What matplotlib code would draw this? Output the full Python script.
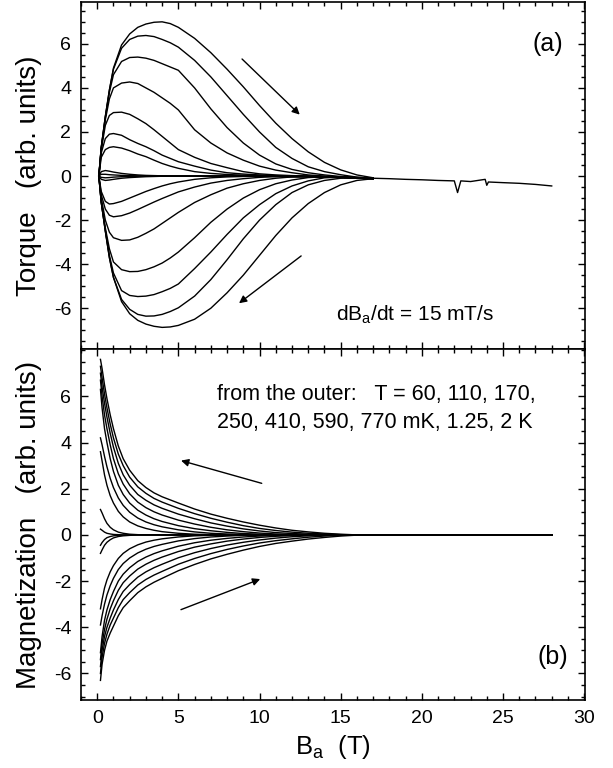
import numpy as np
import matplotlib
matplotlib.use("Agg")
import matplotlib.pyplot as plt
from matplotlib.ticker import MultipleLocator

plt.rcParams['font.family'] = ['Liberation Sans', 'DejaVu Sans']
plt.rcParams['axes.unicode_minus'] = False

# ---- panel (a): torque, field grid shared by all curves (T)
bt = [0.1, 0.25, 0.5, 0.75, 1.0, 1.5, 2.0, 2.5, 3.0, 3.5, 4.0, 4.5, 5, 6, 7, 8, 9, 10, 11, 12, 13, 14, 15, 16, 17]

torque_up = [
    [0, 1.3, 2.7, 3.9, 4.9, 5.95, 6.45, 6.75, 6.9, 6.98, 7.0, 6.92, 6.75, 6.25, 5.6, 4.85, 4.05, 3.2, 2.4, 1.7, 1.1, 0.62, 0.28, 0.05, -0.08],
    [0, 1.3, 2.7, 3.9, 4.85, 5.8, 6.2, 6.35, 6.38, 6.33, 6.2, 6.05, 5.85, 5.25, 4.5, 3.65, 2.8, 2.0, 1.3, 0.8, 0.42, 0.2, 0.06, -0.05, -0.1],
    [0, 1.3, 2.65, 3.8, 4.6, 5.2, 5.38, 5.4, 5.35, 5.25, 5.1, 4.95, 4.8, 4.0, 3.05, 2.2, 1.5, 0.95, 0.55, 0.3, 0.15, 0.05, -0.02, -0.06, -0.1],
    [0, 1.25, 2.55, 3.5, 4.0, 4.22, 4.27, 4.2, 4.0, 3.8, 3.55, 3.3, 3.0, 2.1, 1.5, 1.05, 0.72, 0.45, 0.27, 0.15, 0.05, 0, -0.05, -0.08, -0.1],
    [0, 1.2, 2.3, 2.75, 2.88, 2.9, 2.8, 2.6, 2.38, 2.1, 1.8, 1.5, 1.2, 0.85, 0.57, 0.38, 0.2, 0.1, 0.05, 0.02, 0, -0.03, -0.05, -0.08, -0.1],
    [0, 1.05, 1.7, 1.9, 1.93, 1.85, 1.65, 1.48, 1.33, 1.15, 0.95, 0.8, 0.65, 0.45, 0.27, 0.15, 0.09, 0.05, 0.02, 0, -0.02, -0.04, -0.06, -0.08, -0.1],
    [0, 0.85, 1.2, 1.3, 1.33, 1.27, 1.15, 1.0, 0.88, 0.72, 0.57, 0.45, 0.35, 0.2, 0.12, 0.07, 0.04, 0.02, 0, -0.01, -0.02, -0.04, -0.06, -0.08, -0.1],
    [0, 0.2, 0.25, 0.22, 0.18, 0.12, 0.08, 0.05, 0.03, 0.02, 0.01, 0, 0, 0, 0, 0, 0, 0, -0.01, -0.02, -0.03, -0.05, -0.07, -0.08, -0.1],
    [0, 0.08, 0.08, 0.06, 0.05, 0.03, 0.02, 0.01, 0, 0, 0, 0, 0, 0, 0, 0, 0, 0, -0.01, -0.02, -0.03, -0.05, -0.07, -0.08, -0.1],
]

torque_down = [
    [0, -1.2, -2.5, -3.7, -4.6, -5.7, -6.25, -6.55, -6.72, -6.82, -6.87, -6.85, -6.78, -6.5, -6.0, -5.3, -4.5, -3.6, -2.7, -1.9, -1.25, -0.75, -0.4, -0.2, -0.12],
    [0, -1.2, -2.5, -3.7, -4.6, -5.6, -6.05, -6.28, -6.36, -6.35, -6.28, -6.15, -5.98, -5.45, -4.7, -3.8, -2.85, -2.0, -1.3, -0.75, -0.4, -0.2, -0.1, -0.08, -0.12],
    [0, -1.2, -2.45, -3.6, -4.4, -5.2, -5.42, -5.47, -5.45, -5.38, -5.25, -5.1, -4.9, -4.2, -3.45, -2.65, -1.9, -1.3, -0.8, -0.45, -0.22, -0.08, -0.05, -0.08, -0.12],
    [0, -1.15, -2.35, -3.3, -3.9, -4.25, -4.34, -4.33, -4.25, -4.12, -3.95, -3.72, -3.45, -2.8, -2.1, -1.5, -1.0, -0.62, -0.35, -0.18, -0.07, -0.03, -0.05, -0.08, -0.12],
    [0, -1.0, -2.0, -2.55, -2.8, -2.92, -2.9, -2.78, -2.6, -2.4, -2.15, -1.9, -1.65, -1.2, -0.85, -0.55, -0.35, -0.2, -0.1, -0.04, -0.02, -0.03, -0.05, -0.08, -0.12],
    [0, -0.85, -1.5, -1.78, -1.85, -1.8, -1.68, -1.52, -1.35, -1.18, -1.02, -0.87, -0.72, -0.5, -0.32, -0.2, -0.12, -0.06, -0.03, -0.02, -0.02, -0.03, -0.05, -0.08, -0.12],
    [0, -0.7, -1.15, -1.27, -1.25, -1.15, -1.0, -0.85, -0.7, -0.57, -0.45, -0.35, -0.27, -0.15, -0.08, -0.04, -0.02, -0.01, -0.01, -0.02, -0.02, -0.03, -0.05, -0.08, -0.12],
    [0, -0.15, -0.2, -0.18, -0.15, -0.1, -0.07, -0.05, -0.03, -0.02, -0.01, 0, 0, 0, 0, 0, 0, -0.01, -0.01, -0.02, -0.02, -0.03, -0.05, -0.08, -0.12],
    [0, -0.06, -0.08, -0.07, -0.05, -0.03, -0.02, -0.01, 0, 0, 0, 0, 0, 0, 0, 0, 0, -0.01, -0.01, -0.02, -0.02, -0.03, -0.05, -0.08, -0.12],
]

# common high-field tail of the torque (with the glitches near 22 and 24 T)
tail_b = [17, 18, 19, 20, 21, 22, 22.2, 22.4, 23, 23.9, 24.0, 24.1, 25, 26, 27, 28]
tail_t = [-0.1, -0.12, -0.15, -0.17, -0.2, -0.22, -0.75, -0.22, -0.25, -0.15, -0.42, -0.27, -0.3, -0.33, -0.38, -0.45]

# ---- panel (b): magnetization
bm = [0.2, 0.3, 0.45, 0.6, 0.8, 1.0, 1.3, 1.6, 2.0, 2.5, 3.0, 3.5, 4.0, 5, 6, 7, 8, 9, 10, 11, 12, 13, 14, 15, 16, 28]

magn_up = [
    [7.6, 7.2, 6.5, 5.9, 5.2, 4.6, 3.85, 3.3, 2.8, 2.35, 2.05, 1.82, 1.65, 1.38, 1.12, 0.9, 0.72, 0.56, 0.42, 0.3, 0.2, 0.13, 0.07, 0.03, 0, 0],
    [7.3, 6.8, 6.1, 5.5, 4.8, 4.2, 3.5, 3.0, 2.5, 2.08, 1.8, 1.58, 1.42, 1.15, 0.92, 0.72, 0.55, 0.4, 0.28, 0.19, 0.12, 0.07, 0.04, 0.01, 0, 0],
    [7.0, 6.4, 5.7, 5.1, 4.4, 3.8, 3.1, 2.6, 2.15, 1.75, 1.5, 1.3, 1.15, 0.9, 0.7, 0.52, 0.38, 0.26, 0.17, 0.1, 0.06, 0.03, 0.01, 0, 0, 0],
    [6.7, 6.0, 5.2, 4.6, 3.9, 3.3, 2.65, 2.2, 1.78, 1.42, 1.18, 1.0, 0.86, 0.64, 0.47, 0.33, 0.22, 0.14, 0.08, 0.04, 0.02, 0.01, 0, 0, 0, 0],
    [6.3, 5.5, 4.6, 4.0, 3.3, 2.75, 2.15, 1.75, 1.38, 1.07, 0.86, 0.7, 0.58, 0.4, 0.27, 0.18, 0.11, 0.06, 0.03, 0.01, 0, 0, 0, 0, 0, 0],
    [4.2, 3.9, 3.4, 2.95, 2.45, 2.05, 1.6, 1.28, 0.98, 0.73, 0.56, 0.44, 0.35, 0.22, 0.13, 0.07, 0.04, 0.02, 0.01, 0, 0, 0, 0, 0, 0, 0],
    [3.6, 3.2, 2.6, 2.15, 1.7, 1.38, 1.02, 0.78, 0.56, 0.39, 0.28, 0.2, 0.14, 0.07, 0.03, 0.01, 0, 0, 0, 0, 0, 0, 0, 0, 0, 0],
    [1.1, 0.95, 0.7, 0.5, 0.33, 0.22, 0.12, 0.07, 0.03, 0.01, 0, 0, 0, 0, 0, 0, 0, 0, 0, 0, 0, 0, 0, 0, 0, 0],
    [0.25, 0.2, 0.12, 0.07, 0.04, 0.02, 0.01, 0, 0, 0, 0, 0, 0, 0, 0, 0, 0, 0, 0, 0, 0, 0, 0, 0, 0, 0],
]

magn_down = [
    [-6.3, -5.6, -5.0, -4.6, -4.25, -3.95, -3.5, -3.15, -2.85, -2.5, -2.25, -2.05, -1.88, -1.55, -1.28, -1.04, -0.84, -0.66, -0.5, -0.37, -0.27, -0.18, -0.11, -0.05, -0.01, 0],
    [-6.0, -5.3, -4.7, -4.3, -3.9, -3.6, -3.15, -2.8, -2.5, -2.17, -1.93, -1.74, -1.58, -1.27, -1.02, -0.81, -0.63, -0.48, -0.35, -0.25, -0.17, -0.1, -0.05, -0.02, 0, 0],
    [-5.7, -5.0, -4.4, -4.0, -3.6, -3.25, -2.8, -2.45, -2.15, -1.83, -1.6, -1.42, -1.27, -0.99, -0.77, -0.59, -0.44, -0.32, -0.22, -0.14, -0.08, -0.04, -0.02, 0, 0, 0],
    [-5.4, -4.7, -4.1, -3.65, -3.2, -2.85, -2.4, -2.07, -1.78, -1.48, -1.27, -1.1, -0.96, -0.72, -0.53, -0.39, -0.27, -0.18, -0.11, -0.06, -0.03, -0.01, 0, 0, 0, 0],
    [-5.1, -4.4, -3.7, -3.25, -2.8, -2.45, -2.0, -1.7, -1.42, -1.15, -0.96, -0.81, -0.69, -0.49, -0.34, -0.23, -0.15, -0.09, -0.05, -0.02, -0.01, 0, 0, 0, 0, 0],
    [-3.9, -3.5, -3.0, -2.6, -2.2, -1.88, -1.5, -1.24, -1.0, -0.78, -0.62, -0.5, -0.41, -0.26, -0.16, -0.09, -0.05, -0.02, -0.01, 0, 0, 0, 0, 0, 0, 0],
    [-3.2, -2.8, -2.3, -1.95, -1.6, -1.33, -1.02, -0.8, -0.6, -0.43, -0.31, -0.23, -0.17, -0.09, -0.04, -0.02, 0, 0, 0, 0, 0, 0, 0, 0, 0, 0],
    [-0.8, -0.65, -0.45, -0.32, -0.21, -0.13, -0.07, -0.04, -0.02, 0, 0, 0, 0, 0, 0, 0, 0, 0, 0, 0, 0, 0, 0, 0, 0, 0],
    [-0.45, -0.33, -0.2, -0.12, -0.07, -0.04, -0.02, -0.01, 0, 0, 0, 0, 0, 0, 0, 0, 0, 0, 0, 0, 0, 0, 0, 0, 0, 0],
]

yticks = [-6, -4, -2, 0, 2, 4, 6]

LW = 1.0
fig = plt.figure(figsize=(6.13, 7.68), dpi=100)
ax1 = fig.add_axes([0.1321, 0.5456, 0.8222, 0.4518])
ax2 = fig.add_axes([0.1321, 0.0885, 0.8222, 0.4571])

for y in torque_up + torque_down:
    ax1.plot(bt, y, color='black', lw=LW)
ax1.plot(tail_b, tail_t, color='black', lw=LW)

for y in magn_up + magn_down:
    ax2.plot(bm, y, color='black', lw=LW)

ax1.set_ylim(-7.85, 7.9)
ax2.set_ylim(-7.15, 8.05)

for ax in (ax1, ax2):
    ax.set_xlim(-1, 30.05)
    ax.xaxis.set_major_locator(MultipleLocator(5))
    ax.xaxis.set_minor_locator(MultipleLocator(1))
    ax.set_yticks(yticks)
    ax.yaxis.set_minor_locator(MultipleLocator(0.5))
    ax.tick_params(which='both', direction='in', top=True, right=True, labelsize=14, width=1.0, pad=7)
    ax.tick_params(which='major', length=5)
    ax.tick_params(which='minor', length=3)
    for s in ax.spines.values():
        s.set_linewidth(1.2)

ax1.tick_params(labelbottom=False)
ax1.set_ylabel('Torque   (arb. units)', fontsize=20)
ax2.set_ylabel('Magnetization   (arb. units)', fontsize=20)
ax1.yaxis.set_label_coords(-0.077, 0.5)
ax2.yaxis.set_label_coords(-0.077, 0.5)
ax2.set_xlabel('B$_\\mathregular{a}$  (T)', fontsize=18.5)
ax2.xaxis.set_label_coords(0.5, -0.094)

# annotations
ax1.text(28.7, 6.0, '(a)', fontsize=18, ha='right', va='center')
ax1.text(14.7, -6.3, 'dB$_\\mathregular{a}$/dt = 15 mT/s', fontsize=15, ha='left', va='center')
ax1.annotate('', xy=(12.6, 2.7), xytext=(8.8, 5.4),
             arrowprops=dict(arrowstyle='-|>', color='black', lw=1.0, mutation_scale=11))
ax1.annotate('', xy=(8.6, -5.85), xytext=(12.7, -3.55),
             arrowprops=dict(arrowstyle='-|>', color='black', lw=1.0, mutation_scale=11))

ax2.text(7.4, 6.1, 'from the outer:   T = 60, 110, 170,', fontsize=15.5, ha='left', va='center')
ax2.text(7.4, 4.87, '250, 410, 590, 770 mK, 1.25, 2 K', fontsize=15.5, ha='left', va='center')
ax2.text(29.0, -5.28, '(b)', fontsize=18, ha='right', va='center')
ax2.annotate('', xy=(5.0, 3.25), xytext=(10.3, 2.2),
             arrowprops=dict(arrowstyle='-|>', color='black', lw=1.0, mutation_scale=11))
ax2.annotate('', xy=(10.2, -1.87), xytext=(5.0, -3.28),
             arrowprops=dict(arrowstyle='-|>', color='black', lw=1.0, mutation_scale=11))

fig.savefig('out.png', dpi=100)
